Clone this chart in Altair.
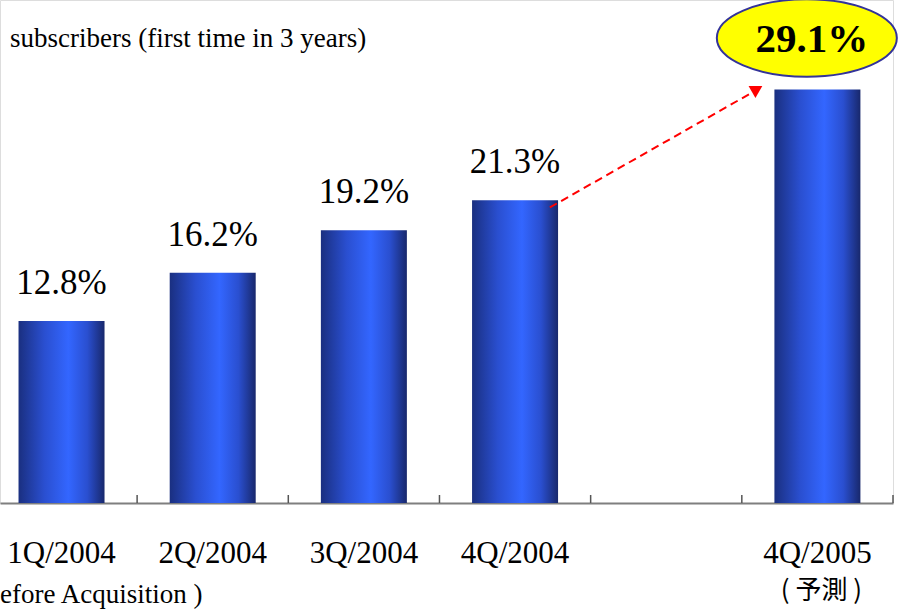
import altair as alt
import pandas as pd

# ---- data ----
bar_index = [0, 1, 2, 3, 5]
bar_cats = ["1Q/2004", "2Q/2004", "3Q/2004", "4Q/2004", "4Q/2005"]
bar_values = [12.8, 16.2, 19.2, 21.3, 29.1]
label_texts = ["12.8%", "16.2%", "19.2%", "21.3%"]
boundaries = [0.5, 1.5, 2.5, 3.5, 4.5, 5.5]
note_before = ["( Before Acquisition )"]
note_before_idx = [0]
note_forecast = ["( 予測 )"]
note_forecast_idx = [5]
arrow_x = [3.23, 4.57]
arrow_y = [20.8, 28.9]
head_x = [4.59]
head_y = [29.06]
highlight_text = ["29.1%"]
highlight_x = [4.93]
title_text = ["subscribers (first time in 3 years)"]

bars = pd.DataFrame({"idx": bar_index, "cat": bar_cats, "value": bar_values})
labels = pd.DataFrame({"idx": bar_index[:4], "value": bar_values[:4], "text": label_texts})
ticks = pd.DataFrame({"b": boundaries})
nb = pd.DataFrame({"idx": note_before_idx, "text": note_before})
nf = pd.DataFrame({"idx": note_forecast_idx, "text": note_forecast})
arrow = pd.DataFrame({"x": arrow_x, "y": arrow_y})
head = pd.DataFrame({"x": head_x, "y": head_y})
hl = pd.DataFrame({"x": highlight_x, "text": highlight_text})
ttl = pd.DataFrame({"text": title_text})

xs = alt.Scale(domain=[-0.407, 5.5], nice=False, zero=False, padding=0)
ys = alt.Scale(domain=[0, 35.4], nice=False, zero=True)

SERIF = "Liberation Serif"

grad = alt.Gradient(
    gradient="linear", x1=0, x2=1, y1=0, y2=0,
    stops=[
        alt.GradientStop(color="#1a2f80", offset=0),
        alt.GradientStop(color="#2a4fd0", offset=0.3),
        alt.GradientStop(color="#3366ff", offset=0.58),
        alt.GradientStop(color="#2a4fd0", offset=0.8),
        alt.GradientStop(color="#18286c", offset=1),
    ],
)

bar_layer = alt.Chart(bars).mark_bar(size=86, fill=grad).encode(
    x=alt.X("idx:Q", scale=xs,
            axis=alt.Axis(labels=False, ticks=False, grid=False, title=None,
                          domainColor="#7f7f7f", domainWidth=2)),
    y=alt.Y("value:Q", scale=ys, axis=None),
)

tick_layer = alt.Chart(ticks).mark_rule(color="#555555", strokeWidth=1.5).encode(
    x=alt.X("b:Q", scale=xs), y=alt.value(495), y2=alt.value(503)
)

value_text = alt.Chart(labels).mark_text(
    font=SERIF, fontSize=35, baseline="alphabetic", dy=-27, color="black"
).encode(x=alt.X("idx:Q", scale=xs), y=alt.Y("value:Q", scale=ys), text="text:N")

cat_text = alt.Chart(bars).mark_text(
    font=SERIF, fontSize=31, baseline="alphabetic", dy=60, color="black"
).encode(x=alt.X("idx:Q", scale=xs), y=alt.datum(0), text="cat:N")

before_text = alt.Chart(nb).mark_text(
    font=SERIF, fontSize=27, align="right", baseline="alphabetic", dx=141, dy=100, color="black"
).encode(x=alt.X("idx:Q", scale=xs), y=alt.datum(0), text="text:N")

forecast_text = alt.Chart(nf).mark_text(
    font="Noto Sans CJK JP", fontSize=26, baseline="alphabetic", dx=4, dy=96, color="black"
).encode(x=alt.X("idx:Q", scale=xs), y=alt.datum(0), text="text:N")

arrow_line = alt.Chart(arrow).mark_line(color="red", strokeWidth=2, strokeDash=[8, 5]).encode(
    x=alt.X("x:Q", scale=xs), y=alt.Y("y:Q", scale=ys)
)
arrow_head = alt.Chart(head).mark_point(
    shape="triangle", filled=True, color="red", size=190, angle=60, opacity=1
).encode(x=alt.X("x:Q", scale=xs), y=alt.Y("y:Q", scale=ys))

ellipse = alt.Chart(hl).mark_point(
    shape="M -1 0 A 1 0.43 0 1 0 1 0 A 1 0.43 0 1 0 -1 0 Z",
    filled=True, fill="#ffff00", stroke="#333399", strokeWidth=2, size=32400, opacity=1,
).encode(x=alt.X("x:Q", scale=xs), y=alt.value(38))

hl_text = alt.Chart(hl).mark_text(
    font=SERIF, fontSize=41, fontWeight="bold", baseline="middle", dx=5, dy=2, color="black"
).encode(x=alt.X("x:Q", scale=xs), y=alt.value(38), text="text:N")

title = alt.Chart(ttl).mark_text(
    font=SERIF, fontSize=27, align="left", baseline="alphabetic", color="black"
).encode(x=alt.value(10), y=alt.value(47), text="text:N")

chart = alt.layer(
    bar_layer, tick_layer, value_text, cat_text, before_text, forecast_text,
    arrow_line, arrow_head, ellipse, hl_text, title
).properties(
    width=893, height=503,
    autosize=alt.AutoSizeParams(type="none"),
    padding={"left": 0, "top": 0, "right": 6, "bottom": 106},
).configure_view(stroke=None).configure(background="white")

chart.save("out.html", embed_options={"renderer": "svg", "actions": False})
